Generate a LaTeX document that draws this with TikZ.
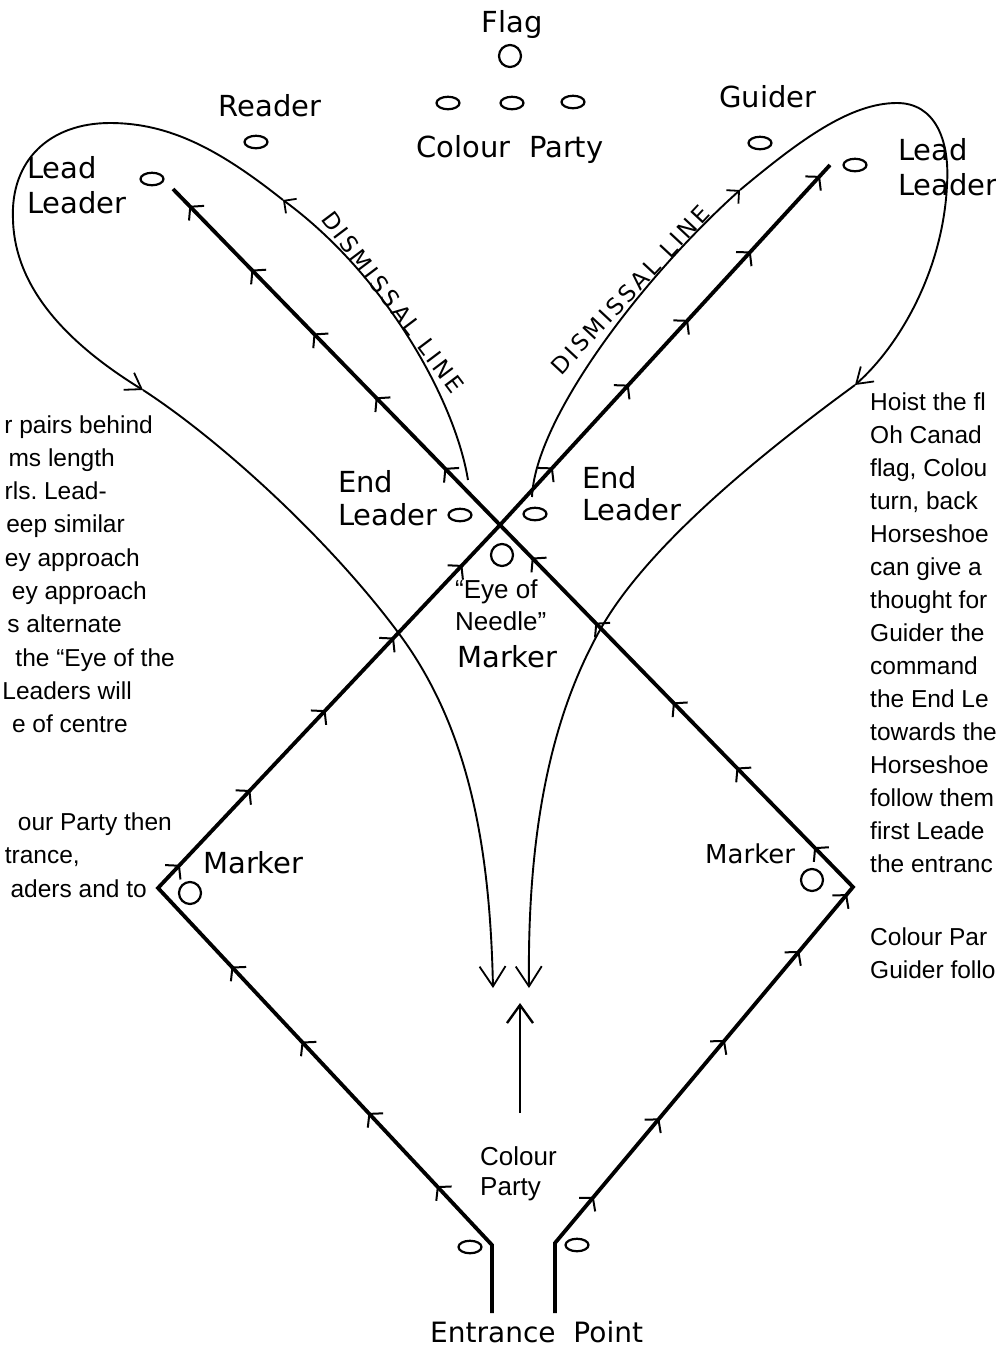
\documentclass[tikz,border=0pt]{standalone}
\usepackage{fontspec}
\usetikzlibrary{arrows.meta,decorations.markings,shapes.geometric}
\newfontfamily\vfont{DejaVu Sans}
\newfontfamily\afont{Liberation Sans}
\newfontfamily\hfont[LetterSpace=13]{DejaVu Sans}
\frenchspacing
\tikzset{
  rtick/.tip={Straight Barb[length=9pt,width=21pt,line width=2pt]},
  smalltip/.tip={Straight Barb[length=9pt,width=18pt,line width=1.8pt]},
  midtip/.tip={Straight Barb[length=15pt,width=20pt,line width=1.8pt]},
  endtip/.tip={Straight Barb[length=20pt,width=26pt,line width=1.8pt]},
  uptip/.tip={Straight Barb[length=18pt,width=26pt,line width=2.4pt]},
}
\begin{document}
\begin{tikzpicture}[x=1pt,y=-1pt,
  route/.style={line width=3.8pt, line join=miter},
  ma/.style={postaction={decorate,decoration={markings,mark=at position #1 with {\arrow{rtick}}}}},
  thinline/.style={line width=1.9pt},
  spot/.style={ellipse, draw, line width=2.2pt, minimum width=23pt, minimum height=12.5pt, inner sep=0pt},
  ring/.style={circle, draw, line width=2.2pt, minimum size=22pt, inner sep=0pt},
  lbl/.style={font=\vfont\fontsize{29}{34}\selectfont, inner sep=0pt},
  albl/.style={font=\afont\fontsize{26}{31}\selectfont, inner sep=0pt},
  body/.style={font=\afont\fontsize{24.5}{33}\selectfont, inner sep=0pt},
  hand/.style={font=\hfont\fontsize{23}{26}\selectfont, inner sep=0pt},
]
\useasboundingbox (0,0) rectangle (996,1353);

% ---------- top labels and spots
\node[lbl, anchor=base] (flagt) at (512,32) {Flag};
\node[ring] (flag) at (510,56) {};
\node[spot] (cp1) at (448,103) {};
\node[spot] (cp2) at (512,103) {};
\node[spot] (cp3) at (573,102) {};
\node[lbl, anchor=base] (cpt) at (510,157) {Colour\ \ Party};
\node[lbl, anchor=base] (rdt) at (270,116) {Reader};
\node[spot] (rd) at (256,142) {};
\node[lbl, anchor=base] (gdt) at (768,107) {Guider};
\node[spot] (gd) at (760,143) {};
\node[lbl, anchor=base west] (lla) at (27,178) {Lead};
\node[lbl, anchor=base west] (llb) at (27,213) {Leader};
\node[spot] (ll) at (152,179) {};
\node[lbl, anchor=base west] (rla) at (898,160) {Lead};
\node[lbl, anchor=base west] (rlb) at (898,195) {Leader};
\node[spot] (rl) at (855,165) {};

% ---------- centre
\node[lbl, anchor=base west] (ela) at (338,492) {End};
\node[lbl, anchor=base west] (elb) at (338,525) {Leader};
\node[spot] (el) at (460,515) {};
\node[lbl, anchor=base west] (era) at (582,488) {End};
\node[lbl, anchor=base west] (erb) at (582,520) {Leader};
\node[spot] (er) at (535,514) {};
\node[ring] (eye) at (502,555) {};
\node[albl, anchor=base west] (eya) at (455,598) {“Eye of};
\node[albl, anchor=base west] (eyb) at (455,630) {Needle”};
\node[lbl, anchor=base west] (eyc) at (457,667) {Marker};

% ---------- markers
\node[lbl, anchor=base west] (mlt) at (203,873) {Marker};
\node[ring] (ml) at (190,893) {};
\node[lbl, anchor=base west, font=\vfont\fontsize{26}{30}\selectfont] (mrt) at (705,863) {Marker};
\node[ring] (mr) at (812,880) {};

% ---------- bottom
\node[albl, anchor=base west] (cpa) at (480,1165) {Colour};
\node[albl, anchor=base west] (cpb) at (480,1195) {Party};
\node[spot] (enl) at (470,1247) {};
\node[spot] (enr) at (577,1245) {};
\node[lbl, anchor=base west, font=\vfont\fontsize{28}{32}\selectfont] (ent) at (430,1342) {Entrance\ \ Point};

% ---------- route
\coordinate (entL) at (492,1313);
\coordinate (entLt) at (492,1245);
\coordinate (mkL) at (158,888);
\coordinate (X) at (500,525);
\coordinate (endR) at (830,165);
\coordinate (entR) at (555,1313);
\coordinate (entRt) at (555,1243);
\coordinate (mkR) at (853,887);
\coordinate (endL) at (173,189);

\draw[route] (entL) -- (entLt) -- (mkL) -- (X) -- (endR);
\draw[route] (entR) -- (entRt) -- (mkR) -- (X) -- (endL);
\path[ma/.list={0.165,0.37,0.57,0.78}] (entLt) -- (mkL);
\path[ma/.list={0.064,0.27,0.49,0.69,0.89}] (mkL) -- (X);
\path[ma/.list={0.16,0.39,0.57,0.76,0.97}] (X) -- (endR);
\path[ma/.list={0.13,0.35,0.57,0.82,0.98}] (entRt) -- (mkR);
\path[ma/.list={0.11,0.33,0.51,0.73,0.91}] (mkR) -- (X);
\path[ma/.list={0.17,0.38,0.57,0.76,0.95}] (X) -- (endL);

% ---------- dismissal lines (left)
\coordinate (dl0) at (468,480);
\coordinate (dl1) at (283,200);
\coordinate (dl2) at (143,390);
\coordinate (dl3) at (493,988);
\draw[thinline, -{smalltip}] (dl0) .. controls (455,400) and (385,275) .. (dl1);
\draw[thinline, -{midtip}] (dl1) .. controls (220,150) and (170,123) .. (110,123)
   .. controls (50,123) and (10,160) .. (13,220) .. controls (15,290) and (70,345) .. (dl2);
\draw[thinline, -{endtip}] (dl2) .. controls (220,440) and (330,540) .. (400,635)
   .. controls (470,730) and (490,850) .. (dl3);

% ---------- dismissal lines (right)
\coordinate (dr0) at (532,497);
\coordinate (dr1) at (740,190);
\coordinate (dr2) at (855,385);
\coordinate (dr3) at (529,988);
\draw[thinline, -{smalltip}] (dr0) .. controls (535,420) and (640,280) .. (dr1);
\draw[thinline, -{midtip}] (dr1) .. controls (800,140) and (850,103) .. (897,103)
   .. controls (935,103) and (950,140) .. (947,185) .. controls (943,270) and (900,345) .. (dr2);
\draw[thinline, -{endtip}] (dr2) .. controls (780,440) and (650,540) .. (600,630)
   .. controls (555,710) and (527,820) .. (dr3);

% ---------- colour party arrow
\coordinate (cpl) at (520,1113);
\coordinate (cpu) at (520,1003);
\draw[line width=2.4pt, -{uptip}] (cpl) -- (cpu);

% ---------- dismissal labels
\node[hand, rotate=-53] (dl) at (393,302) {DISMISSAL\hspace{12pt}LINE};
\node[hand, rotate=47] (dr) at (630,290) {DISMISSAL\hspace{12pt}LINE};

% ---------- left text block (cut at page edge)
\foreach \t/\x [count=\i from 0] in {r pairs behind/153,ms length/115,rls. Lead-/107,eep similar/125,ey approach/140,ey approach/147,s alternate/122,the “Eye of the/175,Leaders will/132,e of centre/128}
  \node[body, anchor=base east] (lt\i) at (\x,{433+33.3*\i}) {\t};
\node[body, anchor=base east] (lt10) at (172,830) {our Party then};
\node[body, anchor=base east] (lt11) at (80,863) {trance,};
\node[body, anchor=base east] (lt12) at (147,897) {aders and to};

% ---------- right text block (cut at page edge)
\foreach \t [count=\i from 0] in {Hoist the fl,Oh Canad,{flag, Colou},{turn, back},Horseshoe,can give a,thought for,Guider the,command,the End Le,towards the,Horseshoe,follow them,first Leade,the entranc}
  \node[body, anchor=base west] (rt\i) at (870,{410+33*\i}) {\t};
\node[body, anchor=base west] (rt15) at (870,945) {Colour Par};
\node[body, anchor=base west] (rt16) at (870,978) {Guider follo};
\end{tikzpicture}
\end{document}
